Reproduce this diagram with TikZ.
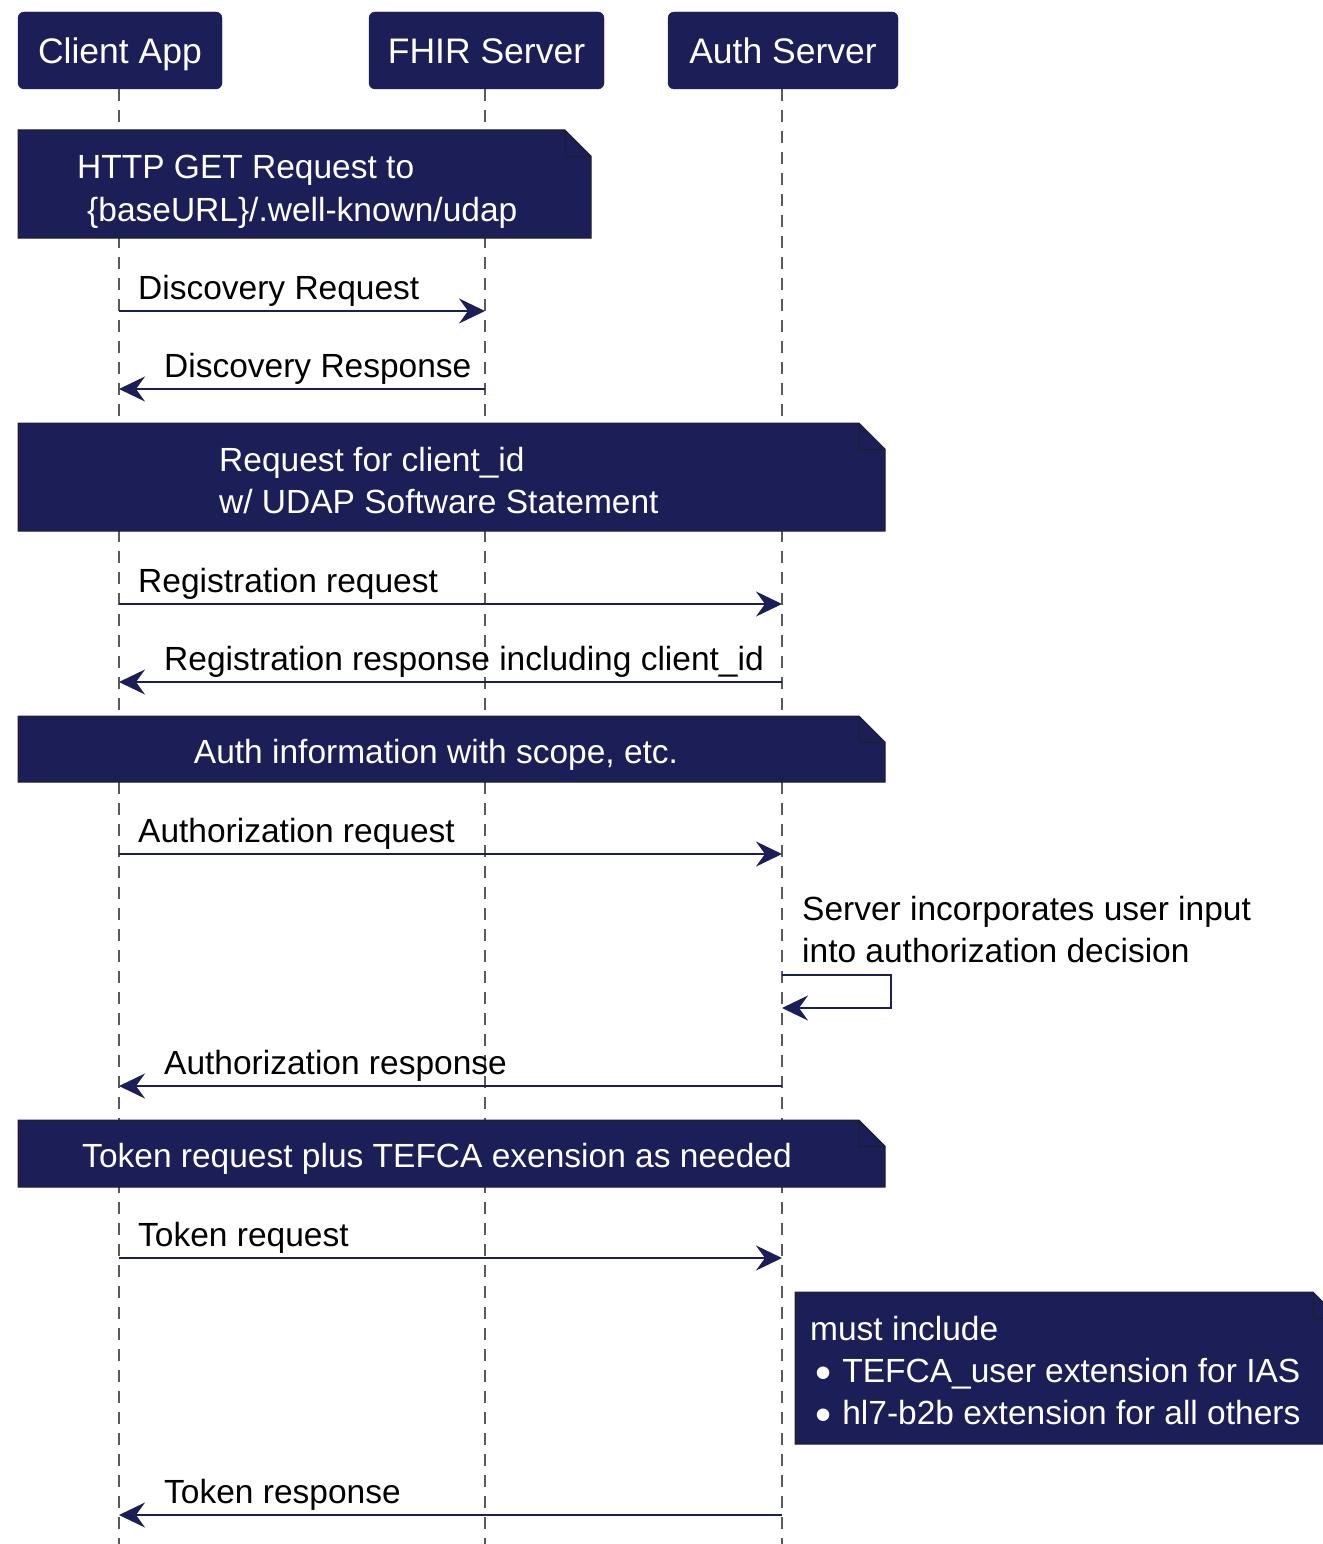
\documentclass[tikz,border=0pt]{standalone}
\usepackage{fontspec}
\setmainfont{Liberation Sans}
\usetikzlibrary{arrows.meta}
\definecolor{navy}{RGB}{28,31,87}
\definecolor{lifegray}{RGB}{90,90,90}
\definecolor{noteedge}{RGB}{30,30,40}
\newcommand{\bigbul}{{\fontsize{46}{46}\selectfont\raisebox{-6pt}{\symbol{"2022}}}\hspace{11pt}}
\begin{document}
\begin{tikzpicture}[x=1pt,y=-1pt,
  part/.style={rectangle,rounded corners=6pt,fill=navy,draw=navy,text=white,
    font=\fontsize{35.5}{42}\selectfont,inner sep=0pt,minimum height=77pt,
    text height=26pt,text depth=0pt},
  life/.style={draw=lifegray,line width=1.4pt,dash pattern=on 12pt off 9pt},
  msg/.style={draw=navy,line width=2.2pt,-{Stealth[length=26pt,width=25pt,inset=9pt]}},
  lbl/.style={anchor=base west,font=\fontsize{33.5}{43}\selectfont,inner sep=0pt,text=black},
  notetxt/.style={anchor=base west,font=\fontsize{33.5}{43}\selectfont,inner sep=0pt,text=white},
  notebg/.style={fill=navy,draw=noteedge,line width=1pt},
  fold/.style={draw=noteedge,line width=1pt}
]
\useasboundingbox (0,0) rectangle (1322,1544);

% participants
\node[part,minimum width=204pt] (ca) at (120,50.5) {Client App};
\node[part,minimum width=235pt] (fs) at (486.5,50.5) {FHIR Server};
\node[part,minimum width=230pt] (as) at (783,50.5) {Auth Server};

% lifelines
\coordinate (caE) at (119,1544);
\coordinate (fsE) at (485,1544);
\coordinate (asE) at (782,1544);
\draw[life] (119,89) -- (caE);
\draw[life] (485,89) -- (fsE);
\draw[life] (782,89) -- (asE);

% note 1
\path[notebg] (18,130) -- (565,130) -- (591,156) -- (591,238) -- (18,238) -- cycle;
\draw[fold] (565,130) -- (565,156) -- (591,156);
\node[notetxt] (n1a) at (77,178) {HTTP GET Request to};
\node[notetxt] (n1b) at (87,221) {\{baseURL\}/.well-known/udap};

% discovery
\coordinate (m1s) at (119,311); \coordinate (m1e) at (485,311);
\draw[msg] (m1s) -- (m1e);
\node[lbl] (l1) at (138,299) {Discovery Request};
\coordinate (m2s) at (485,389); \coordinate (m2e) at (119,389);
\draw[msg] (m2s) -- (m2e);
\node[lbl] (l2) at (164,377) {Discovery Response};

% note 2
\path[notebg] (18,423) -- (859,423) -- (885,449) -- (885,531) -- (18,531) -- cycle;
\draw[fold] (859,423) -- (859,449) -- (885,449);
\node[notetxt] (n2a) at (219,471) {Request for client\_id};
\node[notetxt] (n2b) at (219,513) {w/ UDAP Software Statement};

% registration
\coordinate (m3s) at (119,604); \coordinate (m3e) at (782,604);
\draw[msg] (m3s) -- (m3e);
\node[lbl] (l3) at (138,592) {Registration request};
\coordinate (m4s) at (782,682); \coordinate (m4e) at (119,682);
\draw[msg] (m4s) -- (m4e);
\node[lbl] (l4) at (164,670) {Registration response including client\_id};

% note 3
\path[notebg] (18,716) -- (859,716) -- (885,742) -- (885,782) -- (18,782) -- cycle;
\draw[fold] (859,716) -- (859,742) -- (885,742);
\node[notetxt,anchor=base] (n3) at (436,763) {Auth information with scope, etc.};

% authorization
\coordinate (m5s) at (119,854); \coordinate (m5e) at (782,854);
\draw[msg] (m5s) -- (m5e);
\node[lbl] (l5) at (138,842) {Authorization request};

\node[lbl] (l6a) at (802,920) {Server incorporates user input};
\node[lbl] (l6b) at (802,962) {into authorization decision};
\coordinate (m6s) at (782,975); \coordinate (m6a) at (891,975);
\coordinate (m6b) at (891,1008); \coordinate (m6e) at (782,1008);
\draw[msg] (m6s) -- (m6a) -- (m6b) -- (m6e);

\coordinate (m7s) at (782,1086); \coordinate (m7e) at (119,1086);
\draw[msg] (m7s) -- (m7e);
\node[lbl] (l7) at (164,1074) {Authorization response};

% note 4
\path[notebg] (18,1120) -- (859,1120) -- (885,1146) -- (885,1187) -- (18,1187) -- cycle;
\draw[fold] (859,1120) -- (859,1146) -- (885,1146);
\node[notetxt,anchor=base] (n4) at (437,1167) {Token request plus TEFCA exension as needed};

% token
\coordinate (m8s) at (119,1258); \coordinate (m8e) at (782,1258);
\draw[msg] (m8s) -- (m8e);
\node[lbl] (l8) at (138,1246) {Token request};

% note 5
\path[notebg] (795,1292) -- (1313,1292) -- (1339,1318) -- (1339,1444) -- (795,1444) -- cycle;
\draw[fold] (1313,1292) -- (1313,1318) -- (1339,1318);
\node[notetxt] (n5a) at (810,1340) {must include};
\node[notetxt] (n5b) at (815,1382) {\bigbul TEFCA\_user extension for IAS};
\node[notetxt] (n5c) at (815,1424) {\bigbul hl7-b2b extension for all others};

\coordinate (m9s) at (782,1515); \coordinate (m9e) at (119,1515);
\draw[msg] (m9s) -- (m9e);
\node[lbl] (l9) at (164,1503) {Token response};
\end{tikzpicture}
\end{document}
